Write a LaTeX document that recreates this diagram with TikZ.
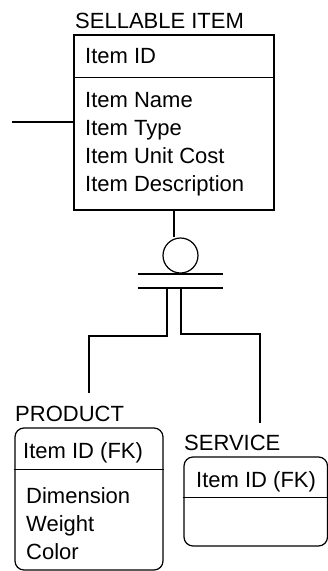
\documentclass[tikz,border=0pt]{standalone}
\usepackage{fontspec}
\setmainfont{Liberation Sans}
\usetikzlibrary{calc,positioning}

\begin{document}
\begin{tikzpicture}[
  x=1pt, y=-1pt,
  link/.style={draw=black, line width=1.2pt},
  entbox/.style 2 args={rectangle, draw=black, line width=1.2pt, minimum width=#1, minimum height=#2, inner sep=0pt},
  depbox/.style 2 args={entbox={#1}{#2}, rounded corners=9pt},
  etitle/.style={font=\fontsize{22}{28}\selectfont, anchor=north west, inner sep=0pt},
  attr/.style={font=\fontsize{22}{28}\selectfont, anchor=north west, inner sep=0pt, align=left}
]
  \useasboundingbox (0,0) rectangle (328,571);

  % Entity Boxes
  \node[entbox={200}{175}] (sellable) at (174, 122.5) {};
  \node[depbox={148}{142}] (product) at (89, 499) {};
  \node[depbox={143.5}{89}] (service) at (255.75, 501.5) {};

  % Key Dividers
  \draw[link] ($(sellable.north west)+(0,43)$) -- ($(sellable.north east)+(0,43)$);
  \draw[link] ($(product.north west)+(0,42)$) -- ($(product.north east)+(0,42)$);
  \draw[link] ($(service.north west)+(0,41)$) -- ($(service.north east)+(0,41)$);

  % Entity Names
  \node[etitle] (stitle) at (75, 13) {SELLABLE ITEM};
  \node[etitle] (ptitle) at (15, 406) {PRODUCT};
  \node[etitle] (vtitle) at (184, 435) {SERVICE};

  % Keys and Attributes
  \node[attr] (skey) at (85, 48) {Item ID};
  \node[attr] (sattr) at (85, 92) {Item Name\\Item Type\\Item Unit Cost\\Item Description};
  \node[attr] (pkey) at (23, 442) {Item ID (FK)};
  \node[attr] (pattr) at (26, 487) {Dimension\\Weight\\Color};
  \node[attr] (vkey) at (196, 471) {Item ID (FK)};

  % Outside Relationship
  \coordinate (ext) at (12, 122);
  \draw[link] (ext) -- (ext -| sellable.west);

  % Subtype Symbol
  \node[circle, draw=black, line width=1.2pt, minimum size=35pt, inner sep=0pt] (circ) at (180.5, 255.5) {};
  \draw[link] (sellable.south) -- (sellable.south |- circ.north);
  \draw[link] (138, 274) -- (223, 274);
  \draw[link] (138, 288) -- (223, 288);

  % Subtype Legs
  \coordinate (pleg) at (167, 288);
  \coordinate (vleg) at (181, 288);
  \coordinate (pend) at (89, 393);
  \coordinate (vend) at (260, 423);
  \draw[link] (pleg) -- (167, 336) -| (pend);
  \draw[link] (vleg) -- (181, 334) -| (vend);

\end{tikzpicture}
\end{document}
